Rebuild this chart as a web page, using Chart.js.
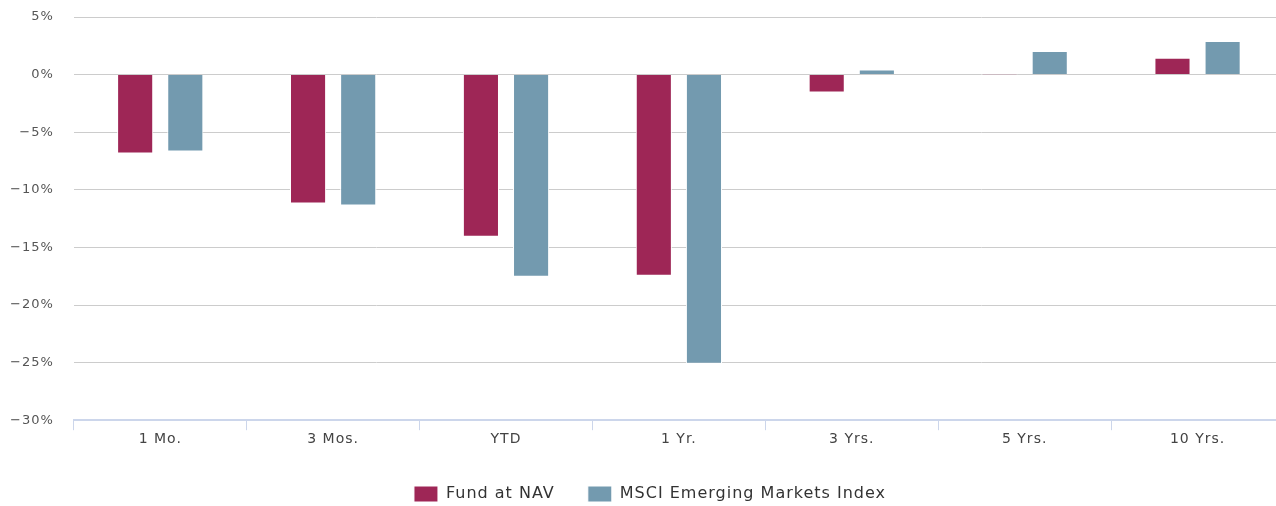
<!DOCTYPE html>
<html>
<head>
<meta charset="utf-8">
<script src="https://cdn.jsdelivr.net/npm/chart.js@4"></script>
<style>
  html, body { margin: 0; padding: 0; background: #fff; overflow: hidden; }
  #wrap { width: 1284px; height: 506px; position: relative; }
</style>
</head>
<body>
<div id="wrap"><canvas id="perf-chart"></canvas></div>
<script>
const periods = ['1 Mo.', '3 Mos.', 'YTD', '1 Yr.', '3 Yrs.', '5 Yrs.', '10 Yrs.'];
const fundNav = [-6.84, -11.2, -14.07, -17.46, -1.55, 0.01, 1.46];
const msciEm = [-6.67, -11.37, -17.55, -25.1, 0.45, 2.04, 2.91];
const yTicks = [5, 0, -5, -10, -15, -20, -25, -30];

// the labels in the original are drawn with a little tracking
const tracking = {
    id: 'tracking',
    beforeLayout(chart) { chart.ctx.letterSpacing = '1px'; },
    beforeDraw(chart) { chart.ctx.letterSpacing = '1px'; },
    // legend sits a bit right of centre in the original
    afterLayout(chart) {
        if (chart.legend) {
            chart.legend.left += 13;
            chart.legend.right += 13;
        }
    }
};

const ctx = document.getElementById('perf-chart').getContext('2d');
const chart = new Chart(ctx, {
    type: 'bar',
    data: {
        labels: periods,
        datasets: [
            {
                label: 'Fund at NAV',
                data: fundNav,
                backgroundColor: '#9e2656',
                borderColor: '#ffffff',
                borderWidth: 1
            },
            {
                label: 'MSCI Emerging Markets Index',
                data: msciEm,
                backgroundColor: '#739aaf',
                borderColor: '#ffffff',
                borderWidth: 1
            }
        ]
    },
    plugins: [tracking],
    options: {
        responsive: true,
        maintainAspectRatio: false,
        animation: false,
        categoryPercentage: 0.58,
        barPercentage: 0.72,
        layout: { padding: { top: 17, left: -10, right: 0, bottom: -6 } },
        plugins: {
            tooltip: { enabled: false },
            legend: {
                position: 'bottom',
                labels: {
                    boxWidth: 24,
                    boxHeight: 16,
                    padding: 33,
                    color: '#333333',
                    font: { family: 'DejaVu Sans', size: 16 }
                }
            }
        },
        scales: {
            x: {
                afterFit: axis => { axis.height += 4; },
                grid: {
                    offset: true,
                    drawOnChartArea: false,
                    tickLength: 10,
                    tickColor: '#ccd6eb'
                },
                border: { color: '#ccd6eb', width: 2 },
                ticks: {
                    color: '#444444',
                    padding: 1,
                    font: { family: 'DejaVu Sans', size: 14 }
                }
            },
            y: {
                min: -30,
                max: 5,
                afterBuildTicks: axis => { axis.ticks = yTicks.map(v => ({ value: v })); },
                afterFit: axis => { axis.paddingTop = 0; axis.paddingBottom = 0; },
                grid: { color: '#cccccc', drawTicks: false, lineWidth: 1 },
                border: { display: false },
                ticks: {
                    color: '#555555',
                    padding: 20,
                    font: { family: 'DejaVu Sans', size: 13 },
                    callback: v => (v < 0 ? '\u2212' + Math.abs(v) : v) + '%'
                }
            }
        }
    }
});
</script>
</body>
</html>
